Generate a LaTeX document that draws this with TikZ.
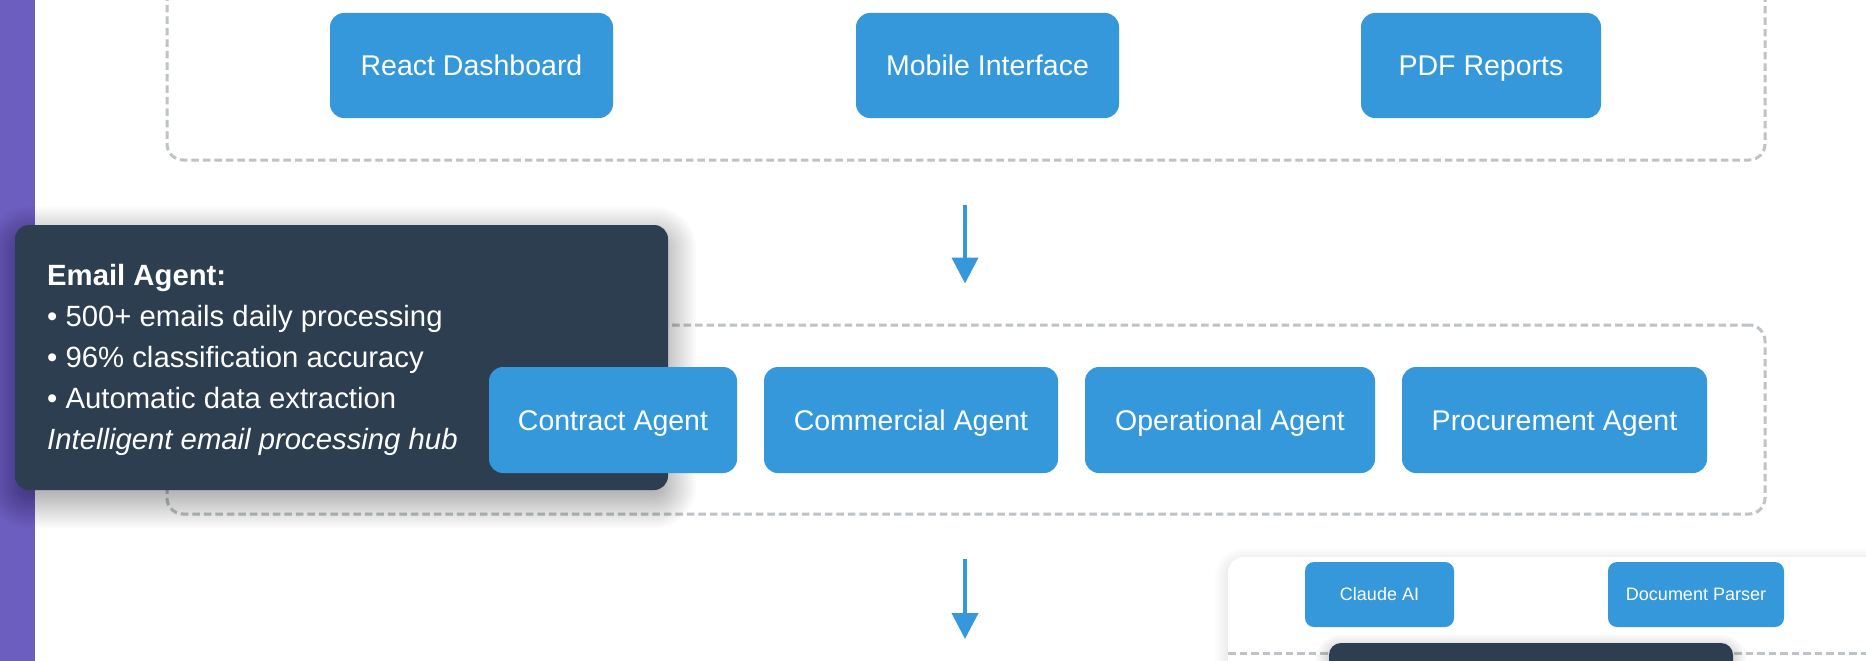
\documentclass[tikz,border=0pt]{standalone}
\usepackage{fontspec}
\setmainfont{Liberation Sans}
\usetikzlibrary{arrows.meta}

\definecolor{btnblue}{HTML}{3498DB}
\definecolor{tipdark}{HTML}{2C3E50}
\definecolor{dashgray}{HTML}{BDC3C7}
\definecolor{sidebar}{RGB}{108,94,190}

% soft drop shadow: #1,#2 = top-left, #3,#4 = bottom-right, #5 = y offset,
% #6 = layers, #7 = spread per layer, #8 = opacity per layer, #9 = corner radius
\newcommand\softshade[9]{%
  \foreach \k in {1,...,#6}{%
    \pgfmathsetmacro\sp{#7*\k-0.36*#6*#7}%
    \pgfmathsetmacro\rr{max(2,#9+\sp)}%
    \fill[black, fill opacity=#8, rounded corners=\rr pt]
      ({#1-\sp},{#2+#5-\sp}) rectangle ({#3+\sp},{#4+#5+\sp});
  }%
}

\tikzset{
  btn/.style={fill=btnblue, text=white, rounded corners=14pt, inner sep=0pt,
    font=\fontsize{28.5}{34}\selectfont, text height=20pt, text depth=0pt},
  smallbtn/.style={fill=btnblue, text=white, rounded corners=9pt, inner sep=0pt,
    font=\fontsize{18}{22}\selectfont, text height=12.6pt, text depth=0pt},
  groupbox/.style={draw=dashgray, line width=3pt, dash pattern=on 7.5pt off 4pt,
    rounded corners=16pt, inner sep=0pt},
  flow/.style={draw=btnblue, line width=4pt, -{Triangle[length=26pt,width=26pt]}},
  tipbox/.style={fill=tipdark, rounded corners=14pt, inner sep=0pt},
  tipline/.style={anchor=base west, text=white, inner sep=0pt,
    font=\fontsize{29.3}{35}\selectfont},
  panel/.style={fill=white, rounded corners=16pt, inner sep=0pt},
  darkcard/.style={fill=tipdark, rounded corners=12pt, inner sep=0pt},
}

\begin{document}
\begin{tikzpicture}[x=1pt, y=-1pt]
  \clip (0,0) rectangle (1866,661);
  \fill[white] (0,0) rectangle (1866,661);

  % left sidebar strip
  \fill[sidebar] (0,0) rectangle (35,661);

  % presentation layer
  \node[groupbox, minimum width=1598pt, minimum height=190pt] (frontend) at (966,65) {};
  \node[btn, minimum width=283pt, minimum height=105pt] (react)  at (471.5,65.5) {React Dashboard};
  \node[btn, minimum width=263pt, minimum height=105pt] (mobile) at (987.5,65.5) {Mobile Interface};
  \node[btn, minimum width=240pt, minimum height=105pt] (pdf)    at (1481,65.5) {PDF Reports};

  % agent layer
  \node[groupbox, minimum width=1598pt, minimum height=189pt] (agents) at (966,419.5) {};

  % flow arrows between layers
  \coordinate (flowend) at (965,639);
  \draw[flow] ([xshift=-1pt,yshift=-43pt]frontend.south) -- ([xshift=-1pt,yshift=40pt]agents.north);
  \draw[flow] ([xshift=-1pt,yshift=-43pt]agents.south) -- (flowend);

  % email agent tooltip
  \softshade{15}{225}{668}{490}{10}{22}{2}{0.014}{14}
  \node[tipbox, minimum width=653pt, minimum height=265pt] (tip) at (341.5,357.5) {};
  \node[tipline, font=\fontsize{29.3}{35}\selectfont\bfseries] (tl1) at (47,285) {Email Agent:};
  \node[tipline] (tl2) at (47,326) {• 500+ emails daily processing};
  \node[tipline] (tl3) at (47,367) {• 96\% classification accuracy};
  \node[tipline] (tl4) at (47,408) {• Automatic data extraction};
  \node[tipline, font=\fontsize{29.3}{35}\selectfont\itshape] (tl5) at (47,449) {Intelligent email processing hub};

  % agent buttons
  \node[btn, minimum width=248pt, minimum height=106pt] (contract)    at (613,420) {Contract Agent};
  \node[btn, minimum width=294pt, minimum height=106pt] (commercial)  at (911,420) {Commercial Agent};
  \node[btn, minimum width=290pt, minimum height=106pt] (operational) at (1230,420) {Operational Agent};
  \node[btn, minimum width=305pt, minimum height=106pt] (procurement) at (1554.5,420) {Procurement Agent};

  % services panel
  \softshade{1228}{557}{1928}{757}{4}{14}{1.5}{0.008}{16}
  \node[panel, minimum width=700pt, minimum height=200pt] (services) at (1578,657) {};
  \node[smallbtn, minimum width=149pt, minimum height=65pt] (claude) at (1379.5,594.5) {Claude AI};
  \node[smallbtn, minimum width=176pt, minimum height=65pt] (parser) at (1696,594.5) {Document Parser};
  \coordinate (sepL) at (1228,653);
  \coordinate (sepR) at (1866,653);
  \draw[draw=dashgray, line width=3pt, dash pattern=on 7.5pt off 4pt] (sepL) -- (sepR);
  \softshade{1329}{643}{1733}{763}{5}{14}{1.5}{0.014}{12}
  \node[darkcard, minimum width=404pt, minimum height=120pt] (card) at (1531,703) {};
\end{tikzpicture}
\end{document}
